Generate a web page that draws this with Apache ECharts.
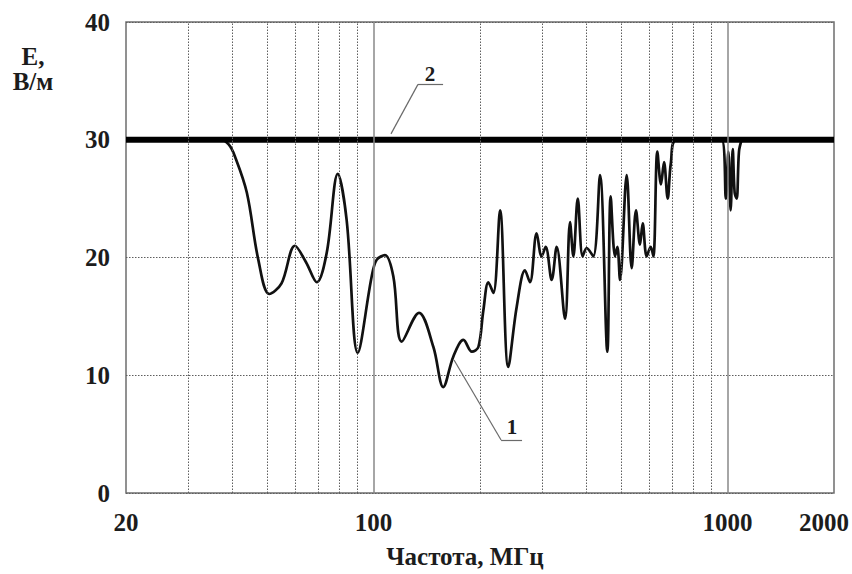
<!DOCTYPE html>
<html>
<head>
<meta charset="utf-8">
<script src="https://cdn.jsdelivr.net/npm/echarts@6/dist/echarts.min.js"></script>
<style>
  html, body { margin: 0; padding: 0; background: #fff; }
  #chart { width: 852px; height: 574px; }
</style>
</head>
<body>
<div id="chart"></div>
<script>
// Curve 1: field strength E (V/m) versus frequency (MHz)
const freqMHz = [
  20, 37, 39, 40.6, 43.9, 47.3, 50.8, 55, 60, 64.5, 69.2, 73.8, 79.3, 84, 90.3,
  98.9, 102.1, 107.8, 113.8, 120.2, 134.5, 147.7, 157.5, 168.2, 179.6, 189.7,
  197.9, 204.4, 211.2, 218.2, 227.9, 240.4, 253.9, 268, 276.8, 289.1, 298.6,
  306.6, 318.8, 329.3, 347.8, 359.2, 367.1, 377.7, 390, 400.4, 417.9, 436.6,
  457.8, 467.9, 481.4, 488.7, 497.2, 519.3, 536.4, 551.7, 566.2, 576.2, 591.4,
  607, 617.7, 633.9, 649, 662, 678, 692, 717, 963, 990, 1006, 1021, 1035, 1048,
  1062, 1078, 1097
];
const fieldVm = [
  30, 30, 29.6, 28.6, 25.5, 19.8, 16.9, 17.8, 21.0, 19.6, 17.9, 20.4, 27.1, 23.2, 11.9,
  18.4, 19.8, 20.2, 18.4, 12.85, 15.3, 12.4, 9.0, 11.6, 13.0, 12.0,
  12.4, 15.5, 17.9, 17.0, 24.0, 10.7, 15.8, 18.9, 17.9, 22.05, 20.1,
  20.9, 18.1, 20.9, 14.8, 23.0, 20.1, 25.0, 20.1, 20.8, 20.1, 27.0,
  12.0, 25.2, 20.1, 20.9, 18.1, 27.0, 19.1, 24.0, 21.1, 22.9, 20.1,
  20.9, 20.1, 29.0, 26.2, 28.1, 25.0, 28.0, 30, 30, 25.0, 29.0, 24.0, 29.2, 25.5,
  25.0, 29.0, 30
];

// Line 2: limit level
const limitFreq = [20, 2000];
const limitVm = [30, 30];

// Axis ticks and grid
const xTickLabels = [20, 100, 1000, 2000];
const minorGridFreq = [30, 40, 50, 60, 70, 80, 90, 200, 300, 400, 500, 600, 700, 800, 900];
const majorGridFreq = [100, 1000];
const yTicks = [0, 10, 20, 30, 40];

// Callout labels: leader start, bend, underline end, number position
const callouts = [
  { text: '1', from: [168.9, 11.3], bend: [229.4, 4.5], end: [262.9, 4.5], at: [246.3, 5.6] },
  { text: '2', from: [112.1, 30.5], bend: [133.6, 34.7], end: [157.3, 34.7], at: [144.5, 35.6] }
];

const SERIF = '"Liberation Serif", "DejaVu Serif", serif';
const TXT = '#1c1c1c';
const DOTTED = { type: [1.5, 1.5], color: '#5e5e5e', width: 1 };

const chart = echarts.init(document.getElementById('chart'), null, { renderer: 'svg' });

const pairs = (xs, ys) => xs.map((x, i) => [x, ys[i]]);

chart.setOption({
  animation: false,
  backgroundColor: '#fff',
  grid: {
    left: 126, right: 18, top: 22, bottom: 81,
    show: true, borderColor: '#6e6e6e', borderWidth: 1.5, backgroundColor: 'transparent'
  },
  xAxis: {
    type: 'log', logBase: 10, min: 20, max: 2000,
    axisLine: { show: false },
    axisTick: { show: false },
    splitLine: { show: false },
    minorSplitLine: { show: false },
    axisLabel: {
      customValues: xTickLabels,
      margin: 17,
      fontFamily: SERIF, fontWeight: 'bold', fontSize: 25, color: TXT,
      formatter: v => (v === 2000 ? '{r|2000}' : String(v)),
      rich: { r: { fontFamily: SERIF, fontWeight: 'bold', fontSize: 25, color: TXT, padding: [0, 20, 0, 0] } }
    }
  },
  yAxis: {
    type: 'value', min: 0, max: 40, interval: 10,
    axisLine: { show: false },
    axisTick: { show: false },
    splitLine: { show: true, lineStyle: DOTTED },
    axisLabel: {
      margin: 16,
      fontFamily: SERIF, fontWeight: 'bold', fontSize: 25, color: TXT,
      formatter: v => (yTicks.includes(v) ? String(v) : '')
    }
  },
  graphic: [
    {
      type: 'text', x: 33, y: 44,
      style: {
        text: 'E,\nВ/м', textAlign: 'center', lineHeight: 25,
        font: 'bold 25px ' + SERIF, fill: TXT
      }
    },
    {
      type: 'text', x: 465, y: 556,
      style: {
        text: 'Частота, МГц', textAlign: 'center', textVerticalAlign: 'middle',
        font: 'bold 25px ' + SERIF, fill: TXT
      }
    }
  ],
  series: [
    {
      // vertical grid: 30–90 and 200–900 dotted, decades solid
      type: 'line', z: 1, silent: true, symbol: 'none',
      data: [[20, 0]], lineStyle: { opacity: 0 },
      markLine: {
        silent: true, symbol: ['none', 'none'], label: { show: false },
        animation: false,
        data: minorGridFreq.map(f => ({ xAxis: f, lineStyle: DOTTED }))
          .concat(majorGridFreq.map(f => ({ xAxis: f, lineStyle: { type: 'solid', color: '#888', width: 1.5 } })))
      }
    },
    {
      name: '1', type: 'line', z: 3, symbol: 'none', smooth: 0.35,
      data: pairs(freqMHz, fieldVm),
      lineStyle: { color: '#111', width: 2.7 }
    },
    {
      name: '2', type: 'line', z: 4, symbol: 'none',
      data: pairs(limitFreq, limitVm),
      lineStyle: { color: '#000', width: 6 }
    },
    {
      // callout leaders and numbers
      type: 'line', z: 5, silent: true, symbol: 'none',
      data: [[20, 0]], lineStyle: { opacity: 0 },
      markLine: {
        silent: true, symbol: ['none', 'none'], label: { show: false }, animation: false,
        lineStyle: { type: 'solid', color: '#6a6a6a', width: 1.2 },
        data: callouts.flatMap(c => [
          [{ coord: c.from }, { coord: c.bend }],
          [{ coord: c.bend }, { coord: c.end }]
        ])
      },
      markPoint: {
        silent: true, symbol: 'circle', symbolSize: 1, animation: false,
        itemStyle: { color: 'transparent' },
        label: {
          show: true, position: 'inside', formatter: p => p.name,
          fontFamily: SERIF, fontWeight: 'bold', fontSize: 21, color: TXT
        },
        data: callouts.map(c => ({ name: c.text, coord: c.at }))
      }
    }
  ]
});
</script>
</body>
</html>
